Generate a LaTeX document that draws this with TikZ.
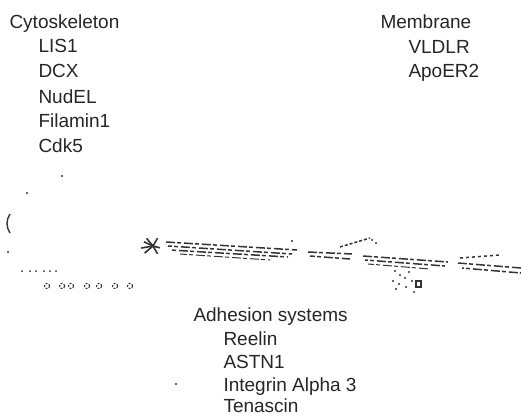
\documentclass[tikz,border=0pt]{standalone}
\usepackage{fontspec}
\setmainfont{Liberation Sans}
\tikzset{
  head/.style={anchor=base west, inner sep=0pt, text=black!85},
  item/.style={anchor=base west, inner sep=0pt, text=black!85},
  fib/.style={line width=1.5pt, black!80, dash pattern=on 9pt off 2pt on 4pt off 3pt},
  speck/.style={fill=black!80}
}
\begin{document}
\begin{tikzpicture}[x=1pt, y=-1pt, font=\fontsize{19}{23}\selectfont, line width=1pt]
  \useasboundingbox (0,0) rectangle (521,417);
  \clip (0,0) rectangle (521,417);
  % 세포골격
  \node[head] (cyto) at (9,29) {Cytoskeleton};
  \node[item] (lis) at (38,53) {LIS1};
  \node[item] (dcx) at (38,78) {DCX};
  \node[item] (nudel) at (38,103) {NudEL};
  \node[item] (filamin) at (38,127) {Filamin1};
  \node[item] (cdk) at (38,152) {Cdk5};
  % 막
  \node[head] (membr) at (380,29) {Membrane};
  \node[item] (vldlr) at (408,54) {VLDLR};
  \node[item] (apoer) at (408,78) {ApoER2};
  % 부착
  \node[head] (adhes) at (193,321) {Adhesion systems};
  \node[item] (reelin) at (223,345) {Reelin};
  \node[item] (astn) at (223,368) {ASTN1};
  \node[item] (integ) at (223,391) {Integrin Alpha 3};
  \node[item] (tenas) at (223,412) {Tenascin};
  % 세포와 섬유
  \coordinate (S) at (153,246);
  \foreach \a/\r in {170/12, 140/11, 205/10, 230/10, 60/9, 300/9, 15/7}
    \draw[line width=1.6pt, black!80] (S) -- ++(\a:\r);
  \draw[fib] (166,242) -- (297,250);
  \draw[fib, dash phase=5pt] (168,246) -- (292,254);
  \draw[fib, dash phase=9pt] (170,250) -- (288,257);
  \draw[fib, dash phase=2pt, line width=1pt] (180,254) -- (270,260);
  \draw[fib] (308,252) -- (352,254);
  \draw[fib, dash phase=4pt] (310,256) -- (350,259);
  \draw[fib, dash pattern=on 3pt off 2pt] (340,247) -- (370,238);
  \draw[fib] (363,256) -- (448,262);
  \draw[fib, dash phase=6pt] (365,260) -- (445,266);
  \draw[fib, dash phase=3pt, line width=1pt] (368,264) -- (430,269);
  \draw[fib] (458,263) -- (521,268);
  \draw[fib, dash phase=7pt] (462,268) -- (521,273);
  \draw[fib, dash pattern=on 3pt off 3pt] (460,258) -- (500,255);
  % 흩어진 점
  \foreach \p in {(62,176),(27,193),(8,252),(176,384),(414,292),(292,241),(372,240),(376,243)}
    \fill[speck] \p circle (1.1);
  \draw[line width=1.4pt, black!80] (10,214) .. controls (6,220) and (6,227) .. (10,233);
  \foreach \x in {22,30,36,44,50,56}
    \fill[speck] (\x,271) circle (1);
  \foreach \x in {47,62,71,87,99,115,130}
    \draw[line width=1.1pt, black!80, dash pattern=on 2pt off 1.5pt] (\x,286) circle (2.6);
  \foreach \p in {(395,271),(400,275),(405,278),(393,281),(399,284),(406,287),(412,281),(409,272),(396,289)}
    \fill[speck] \p circle (1.1);
  \draw[line width=1.2pt, black!80] (416,281) rectangle (421,287);
\end{tikzpicture}
\end{document}
